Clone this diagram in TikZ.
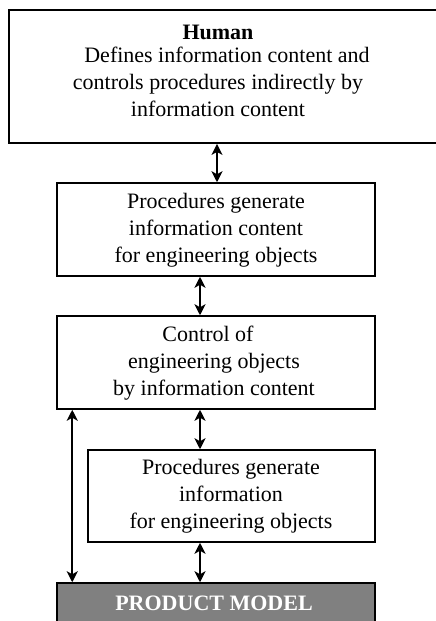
\documentclass[tikz,border=0pt]{standalone}
\usepackage{fontspec}
\setmainfont{Liberation Serif}
\usetikzlibrary{arrows.meta,calc}
\begin{document}
\begin{tikzpicture}[x=1pt,y=-1pt,
  box/.style={draw=black,line width=1.5pt,fill=white,rectangle,inner sep=0pt},
  txt/.style={align=center,font=\fontsize{22}{27}\selectfont,inner sep=0pt},
  biarrow/.style={line width=2.2pt,{Stealth[length=11pt,width=11pt,inset=3pt]}-{Stealth[length=11pt,width=11pt,inset=3pt]}}]
\useasboundingbox (0,0) rectangle (436,621);
\begin{scope}
\clip (0,0) rectangle (436,621);
% top box
\node[box,line width=1.8pt,minimum width=436pt,minimum height=133pt] (top) at (227,76.5) {};
\node[txt] (toptxt) at (218,71) {\textbf{Human}\\[-4pt]\hspace*{18pt}Defines information content and\\controls procedures indirectly by\\information content};
% box 2
\node[box,minimum width=318pt,minimum height=93pt] (b2) at (216,229.5) {};
\node[txt] (b2txt) at (216,230) {Procedures generate\\information content\\for engineering objects};
% box 3
\node[box,minimum width=318pt,minimum height=93pt] (b3) at (216,362.5) {};
\node[txt] (b3txt) at (214,363) {Control of\hspace*{12pt}\\engineering objects\hspace*{6pt}\\by information content};
% box 4
\node[box,minimum width=287pt,minimum height=92pt] (b4) at (231.5,496) {};
\node[txt] (b4txt) at (231,496) {Procedures generate\\information\hspace*{24pt}\\for engineering objects};
% product model
\node[box,fill=black!50,minimum width=318pt,minimum height=40pt] (prod) at (216,603) {};
\node[txt,text=white,font=\fontsize{22}{27}\selectfont\bfseries] (prodtxt) at (214,603) {PRODUCT MODEL};
\end{scope}
% arrows
\draw[biarrow] ([xshift=1pt]b2.north) -- ([xshift=1pt]b2.north |- top.south);
\draw[biarrow] ([xshift=-16pt]b2.south) -- ([xshift=-16pt]b2.south |- b3.north);
\draw[biarrow] ([xshift=-16pt]b3.south) -- ([xshift=-16pt]b3.south |- b4.north);
\draw[biarrow] ([xshift=-16pt]b3.south |- b4.south) -- ([xshift=-16pt]b3.south |- prod.north);
\draw[biarrow] ([xshift=16pt]b3.south west) -- ([xshift=16pt]b3.south west |- prod.north);
\end{tikzpicture}
\end{document}
